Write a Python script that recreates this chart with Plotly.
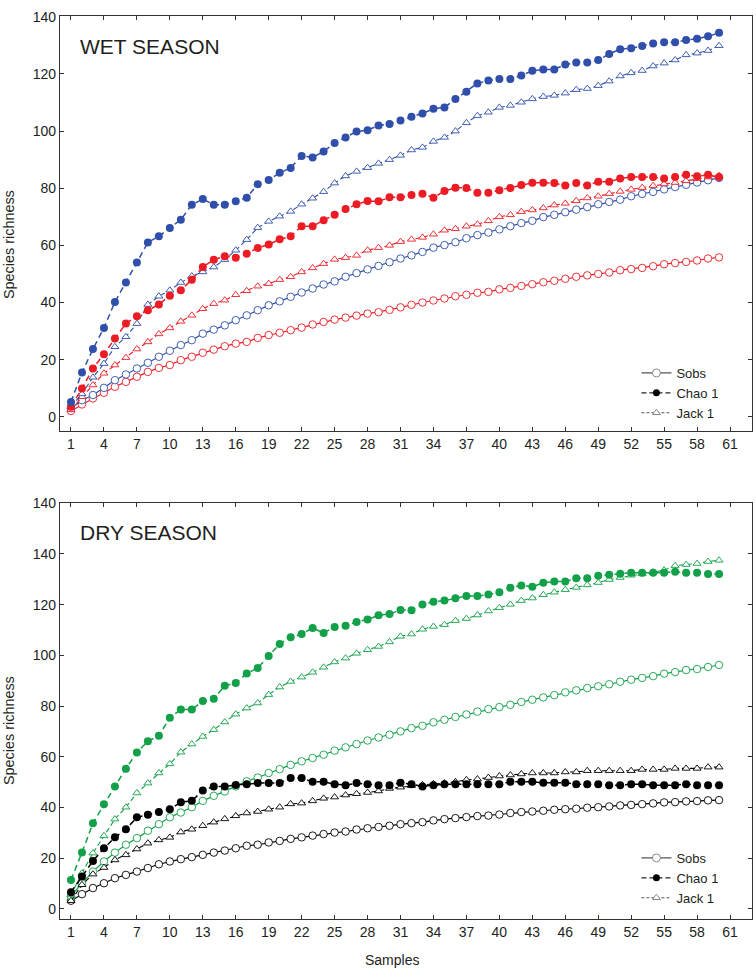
import plotly.graph_objects as go

samples = list(range(1, 61))

# ---- WET SEASON ----
wet_sobs_blue = [3, 5.8, 7.6, 10.1, 12.8, 14.8, 16.9, 18.9, 21, 23.1,
                 25.1, 26.8, 29.1, 30.5, 32, 33.8, 35.5, 37.3, 39, 40.4,
                 42, 43.5, 44.9, 46.3, 47.4, 49, 50.3, 51.6, 52.8, 54.1,
                 55.4, 56.5, 57.7, 59.2, 60.1, 61.1, 62.5, 63.6, 64.5, 65.6,
                 66.7, 67.8, 68.6, 69.9, 70.7, 71.6, 72.5, 73.4, 74.4, 75.2,
                 76, 77.2, 78, 78.7, 79.6, 80.4, 81.2, 82, 82.8, 83.6]
wet_chao_blue = [5.2, 15.5, 23.7, 31.1, 40.2, 47, 54, 61, 63.2, 66.1,
                 69, 74.2, 76.2, 74.2, 74.2, 75.4, 76.7, 81.4, 82.9, 85.4,
                 87.1, 91.3, 90.8, 92.9, 95.8, 97.8, 99.9, 100.3, 102, 102.5,
                 103.7, 105, 106.2, 107.8, 108.3, 111.2, 113.8, 116.7, 117.7, 118.2,
                 118.2, 119.5, 121.1, 121.6, 121.6, 123.3, 124, 124, 124.9, 127,
                 128.7, 129, 129.8, 130.7, 131.1, 131.1, 131.9, 132.3, 133.2, 134.4]
wet_jack_blue = [3.5, 8, 13.8, 18.6, 24.5, 28, 32.6, 39.3, 42.2, 44.3,
                 47, 49.2, 50.7, 52.4, 55, 58.3, 62, 66.2, 68.4, 70.2,
                 71.9, 74.4, 76.5, 78.8, 81.8, 84.3, 85.9, 87.2, 88.7, 90,
                 91.5, 93.4, 94.3, 96.4, 97.8, 100, 102.9, 105.4, 106.6, 108.3,
                 109, 110.1, 111.3, 112.1, 112.5, 113.3, 114.5, 114.9, 115.9, 117.5,
                 119.3, 120.4, 121.2, 122.8, 123.8, 124.9, 126.7, 127.3, 128.2, 129.9]
wet_sobs_red = [2, 4.3, 6.4, 8.4, 10.5, 12.2, 14, 15.7, 17.1, 18.1,
                19.8, 21, 22.4, 23.5, 24.7, 25.6, 26.2, 27.6, 28.6, 29.4,
                30.3, 31.2, 32.3, 33.2, 34, 34.7, 35.4, 36.1, 36.6, 37.4,
                38.3, 39.2, 40, 40.7, 41.4, 42.2, 42.7, 43.4, 43.7, 44.6,
                45.1, 45.8, 46.4, 47.1, 47.6, 48.3, 49, 49.5, 50, 50.5,
                51.3, 51.7, 52.1, 52.7, 53.4, 53.8, 54.2, 54.7, 55.4, 55.8]
wet_chao_red = [3.5, 9.9, 16.9, 21.9, 27.4, 32.6, 35.2, 37.3, 39.3, 42.4,
                44.3, 48, 52.4, 55, 56.2, 55.7, 57.1, 59.1, 60.3, 62.1,
                63.2, 66.7, 66.7, 68.8, 70.7, 72.7, 74.4, 75.5, 75.4, 76.8,
                76.8, 77.6, 78.1, 76.7, 79, 80.2, 80.1, 78.4, 78.4, 79.3,
                80.1, 81.1, 81.9, 81.9, 81.8, 81, 81.8, 81, 82.3, 82.3,
                83.4, 83.9, 83.9, 83.9, 83.4, 83.9, 84.7, 84.2, 84.7, 83.9]
wet_jack_red = [2.5, 7, 11.1, 15.2, 18.1, 20.7, 23.7, 26.2, 29, 31.1,
                33.4, 35.5, 37.8, 39.6, 40.8, 42.7, 44.1, 45.7, 46.6, 48,
                49, 50.7, 52.1, 53.6, 55.1, 55.7, 56.5, 58.3, 59.2, 60,
                61.3, 62.1, 62.8, 63.9, 65.3, 65.8, 66.7, 67.4, 68.6, 70,
                70.7, 71.8, 72.4, 73.1, 74.1, 74.7, 75.6, 76.6, 77.2, 78.1,
                78.9, 79.6, 80.2, 80.9, 81.5, 82, 82.6, 83.3, 83.9, 84.4]

# ---- DRY SEASON ----
dry_sobs_green = [5, 10.1, 14.7, 18.7, 22.2, 25.3, 27.9, 30.8, 33.4, 36.1,
                  38, 40.1, 42.6, 44.6, 46.3, 48.3, 50.3, 51.8, 53.6, 55.1,
                  56.8, 58.2, 59.5, 60.8, 62.4, 63.7, 65, 66.4, 67.6, 68.7,
                  70, 71.3, 72.2, 73.6, 74.6, 75.7, 76.7, 77.8, 78.8, 79.6,
                  80.5, 81.6, 82.5, 83.4, 84.3, 85.4, 86.2, 87.1, 87.8, 88.6,
                  89.6, 90.4, 91.1, 91.8, 92.8, 93.4, 94.2, 94.6, 95.4, 96.2]
dry_chao_green = [11.4, 22.2, 33.8, 41.3, 48.3, 55.3, 61.7, 66.1, 68.3, 75.4,
                  78.6, 78.6, 82, 82.9, 88, 89.1, 92.8, 95, 99.7, 104.5,
                  107.1, 108.4, 110.8, 108.8, 111.2, 111.7, 113.2, 114.1, 115.8, 116.3,
                  117.9, 117.8, 120.1, 121.1, 121.6, 122.5, 123.4, 123.4, 124, 124.9,
                  126.7, 127.6, 127.1, 128.6, 129.1, 129.1, 130.4, 130.4, 131.4, 131.8,
                  132.2, 132.6, 132.6, 132.6, 132.6, 133, 132.6, 132.6, 132.1, 132.1]
dry_jack_green = [5.5, 14.1, 22, 28.8, 35.4, 40.1, 45.7, 49.6, 53.6, 57.2,
                  61.8, 65, 68, 70.7, 73.7, 76.8, 79.2, 81.2, 84.5, 87.5,
                  89.7, 91.4, 93.3, 95.3, 97.4, 98.9, 100.8, 102.2, 103.5, 105.3,
                  107.5, 108.4, 110.3, 111.4, 112.1, 113.7, 114.5, 115.9, 117.5, 118.8,
                  120.1, 121.6, 122.6, 123.9, 124.9, 125.9, 126.8, 127.8, 128.7, 129.9,
                  130.7, 131.6, 132.1, 132.8, 133.6, 135.4, 135.8, 136.2, 137, 137.5]
dry_sobs_black = [3.2, 5.8, 8.2, 10.1, 12.1, 13.4, 14.7, 16.1, 17.6, 18.7,
                  19.6, 20.4, 21.3, 22.2, 23, 23.9, 24.9, 25.3, 26.2, 26.8,
                  27.6, 28.2, 28.9, 29.5, 30.1, 30.5, 31.3, 31.8, 32.3, 32.8,
                  33.4, 33.8, 34.2, 34.9, 35.4, 35.8, 36.2, 36.6, 36.8, 37.2,
                  37.8, 38.2, 38.4, 38.7, 39.1, 39.3, 39.5, 39.9, 40.1, 40.4,
                  40.8, 41, 41.3, 41.6, 42, 42.1, 42.4, 42.5, 42.8, 42.9]
dry_chao_black = [6.6, 12.8, 18.9, 23.9, 28.2, 31.4, 36.1, 37.1, 38.2, 39.3,
                  42.1, 42.6, 46.7, 48.3, 48.3, 48.9, 49.2, 49.6, 49.6, 49.6,
                  51.6, 51.6, 50.1, 50.1, 49.2, 48.8, 49.6, 49.2, 48.8, 48.8,
                  49.7, 49.2, 48.3, 48.8, 49.2, 49.2, 49.2, 49.2, 49.2, 49.2,
                  50.1, 50.1, 50.1, 49.7, 49.7, 49.7, 49.2, 49.2, 49.2, 48.8,
                  48.8, 49.2, 49.2, 48.8, 48.8, 48.8, 49.2, 48.8, 48.8, 48.8]
dry_jack_black = [3.2, 9.5, 13.7, 16.3, 19.3, 21.3, 23.6, 25.9, 27.2, 28.2,
                  30.3, 31.4, 32.8, 34.2, 35.5, 36.7, 37.8, 38.4, 39.3, 40.1,
                  41.4, 41.7, 42.6, 43.6, 44.1, 44.9, 45.4, 45.9, 46.5, 47.5,
                  48, 48.6, 48.9, 49.3, 49.6, 50.1, 50.9, 51.2, 51.8, 52.4,
                  52.8, 53.2, 53.6, 53.6, 53.6, 54, 54, 54.5, 54.5, 54.5,
                  54.5, 54.5, 55, 55, 55, 55.4, 55.4, 55.4, 55.9, 55.9]

x_tick_vals = list(range(1, 62, 3))
y_tick_vals_wet = [0, 20, 40, 60, 80, 100, 120, 140]
y_tick_text_wet = ["0", "20", "40", "60", "80", "100", "120", "140"]
y_tick_vals_dry = [0, 20, 40, 60, 80, 100, 120, 140, 160]
y_tick_text_dry = ["0", "20", "40", "60", "80", "100", "120", "140", "140"]
legend_names = ["Sobs", "Chao 1", "Jack 1"]

BLUE = "#2F4FAA"
RED = "#EC1C24"
GREEN = "#12A048"
BLACK = "#000000"
TXT = "#231F20"
FONT = "Liberation Sans, Arial, sans-serif"

fig = go.Figure()


def add_series(y, color, kind, xa, ya):
    if kind == "sobs":
        line = dict(color=color, width=1.2)
        marker = dict(symbol="circle", size=7.5, color="white", line=dict(width=0.9, color=color))
    elif kind == "chao":
        line = dict(color=color, width=1.5, dash="6px,4px")
        marker = dict(symbol="circle", size=8, color=color)
    else:
        line = dict(color=color, width=1.1, dash="5px,3px")
        marker = dict(symbol="triangle-up", size=7, color="white", line=dict(width=0.9, color=color))
    fig.add_trace(go.Scatter(x=samples, y=y, mode="lines+markers", line=line, marker=marker,
                             xaxis=xa, yaxis=ya, showlegend=False, hoverinfo="skip"))


# wet season (top)
add_series(wet_sobs_red, RED, "sobs", "x", "y")
add_series(wet_sobs_blue, BLUE, "sobs", "x", "y")
add_series(wet_jack_red, RED, "jack", "x", "y")
add_series(wet_jack_blue, BLUE, "jack", "x", "y")
add_series(wet_chao_red, RED, "chao", "x", "y")
add_series(wet_chao_blue, BLUE, "chao", "x", "y")

# dry season (bottom)
add_series(dry_sobs_black, BLACK, "sobs", "x2", "y2")
add_series(dry_sobs_green, GREEN, "sobs", "x2", "y2")
add_series(dry_jack_black, BLACK, "jack", "x2", "y2")
add_series(dry_jack_green, GREEN, "jack", "x2", "y2")
add_series(dry_chao_black, BLACK, "chao", "x2", "y2")
add_series(dry_chao_green, GREEN, "chao", "x2", "y2")

# legend entries (both panels)
LEG = "#555555"
for lg in ["legend", "legend2"]:
    fig.add_trace(go.Scatter(x=[None], y=[None], mode="lines+markers", name=legend_names[0], legend=lg,
                             line=dict(color=LEG, width=1.2),
                             marker=dict(symbol="circle", size=8, color="white", line=dict(width=1, color="#888888"))))
    fig.add_trace(go.Scatter(x=[None], y=[None], mode="lines+markers", name=legend_names[1], legend=lg,
                             line=dict(color="#222222", width=1.4, dash="5px,3px"),
                             marker=dict(symbol="circle", size=7, color="#000000")))
    fig.add_trace(go.Scatter(x=[None], y=[None], mode="lines+markers", name=legend_names[2], legend=lg,
                             line=dict(color=LEG, width=1.1, dash="3px,2px"),
                             marker=dict(symbol="triangle-up", size=7, color="white", line=dict(width=1, color="#888888"))))

axis_common = dict(showline=True, linecolor="#333333", linewidth=1.3, mirror="ticks",
                   ticks="inside", ticklen=4, tickcolor="#333333", showgrid=False, zeroline=False,
                   tickfont=dict(family=FONT, size=14, color=TXT))

legend_common = dict(xanchor="left", yanchor="top", bgcolor="rgba(0,0,0,0)",
                     font=dict(family=FONT, size=13, color=TXT), tracegroupgap=0, itemwidth=30)

fig.update_layout(
    width=756, height=972,
    margin=dict(l=60, r=4, t=16, b=53),
    paper_bgcolor="white", plot_bgcolor="white",
    font=dict(family=FONT, color=TXT),
    xaxis=dict(domain=[0, 1], anchor="y", range=[0, 63], tickvals=x_tick_vals, **axis_common),
    yaxis=dict(domain=[0.5404, 1.0], anchor="x", range=[-5, 140.3],
               tickvals=y_tick_vals_wet, ticktext=y_tick_text_wet, **axis_common),
    xaxis2=dict(domain=[0, 1], anchor="y2", range=[0, 63], tickvals=x_tick_vals, **axis_common),
    yaxis2=dict(domain=[0, 0.4607], anchor="x2", range=[-4, 160.1],
                tickvals=y_tick_vals_dry, ticktext=y_tick_text_dry, **axis_common),
    legend=dict(x=0.833, y=1 - (358 - 16) / 903, **legend_common),
    legend2=dict(x=0.833, y=(919 - 843) / 903, **legend_common),
    annotations=[
        dict(text="WET SEASON", xref="paper", yref="paper", x=(78 - 60) / 692, y=1 - (46 - 16) / 903,
             xanchor="left", yanchor="middle", showarrow=False, font=dict(family=FONT, size=21, color=TXT)),
        dict(text="DRY SEASON", xref="paper", yref="paper", x=(78 - 60) / 692, y=(919 - 532) / 903,
             xanchor="left", yanchor="middle", showarrow=False, font=dict(family=FONT, size=21, color=TXT)),
        dict(text="Species richness", xref="paper", yref="paper", x=0, xshift=-51, y=(919 - 245) / 903,
             textangle=-90, xanchor="center", yanchor="middle", showarrow=False,
             font=dict(family=FONT, size=14.4, color=TXT)),
        dict(text="Species richness", xref="paper", yref="paper", x=0, xshift=-51, y=(919 - 731) / 903,
             textangle=-90, xanchor="center", yanchor="middle", showarrow=False,
             font=dict(family=FONT, size=14.4, color=TXT)),
        dict(text="Samples", xref="paper", yref="paper", x=(392 - 60) / 692, y=0, yshift=-41,
             xanchor="center", yanchor="middle", showarrow=False, font=dict(family=FONT, size=14, color=TXT)),
    ],
)

fig.write_html("out.html", config={"displayModeBar": False},
               post_script="document.body.style.margin='0';document.body.style.overflow='hidden';")
